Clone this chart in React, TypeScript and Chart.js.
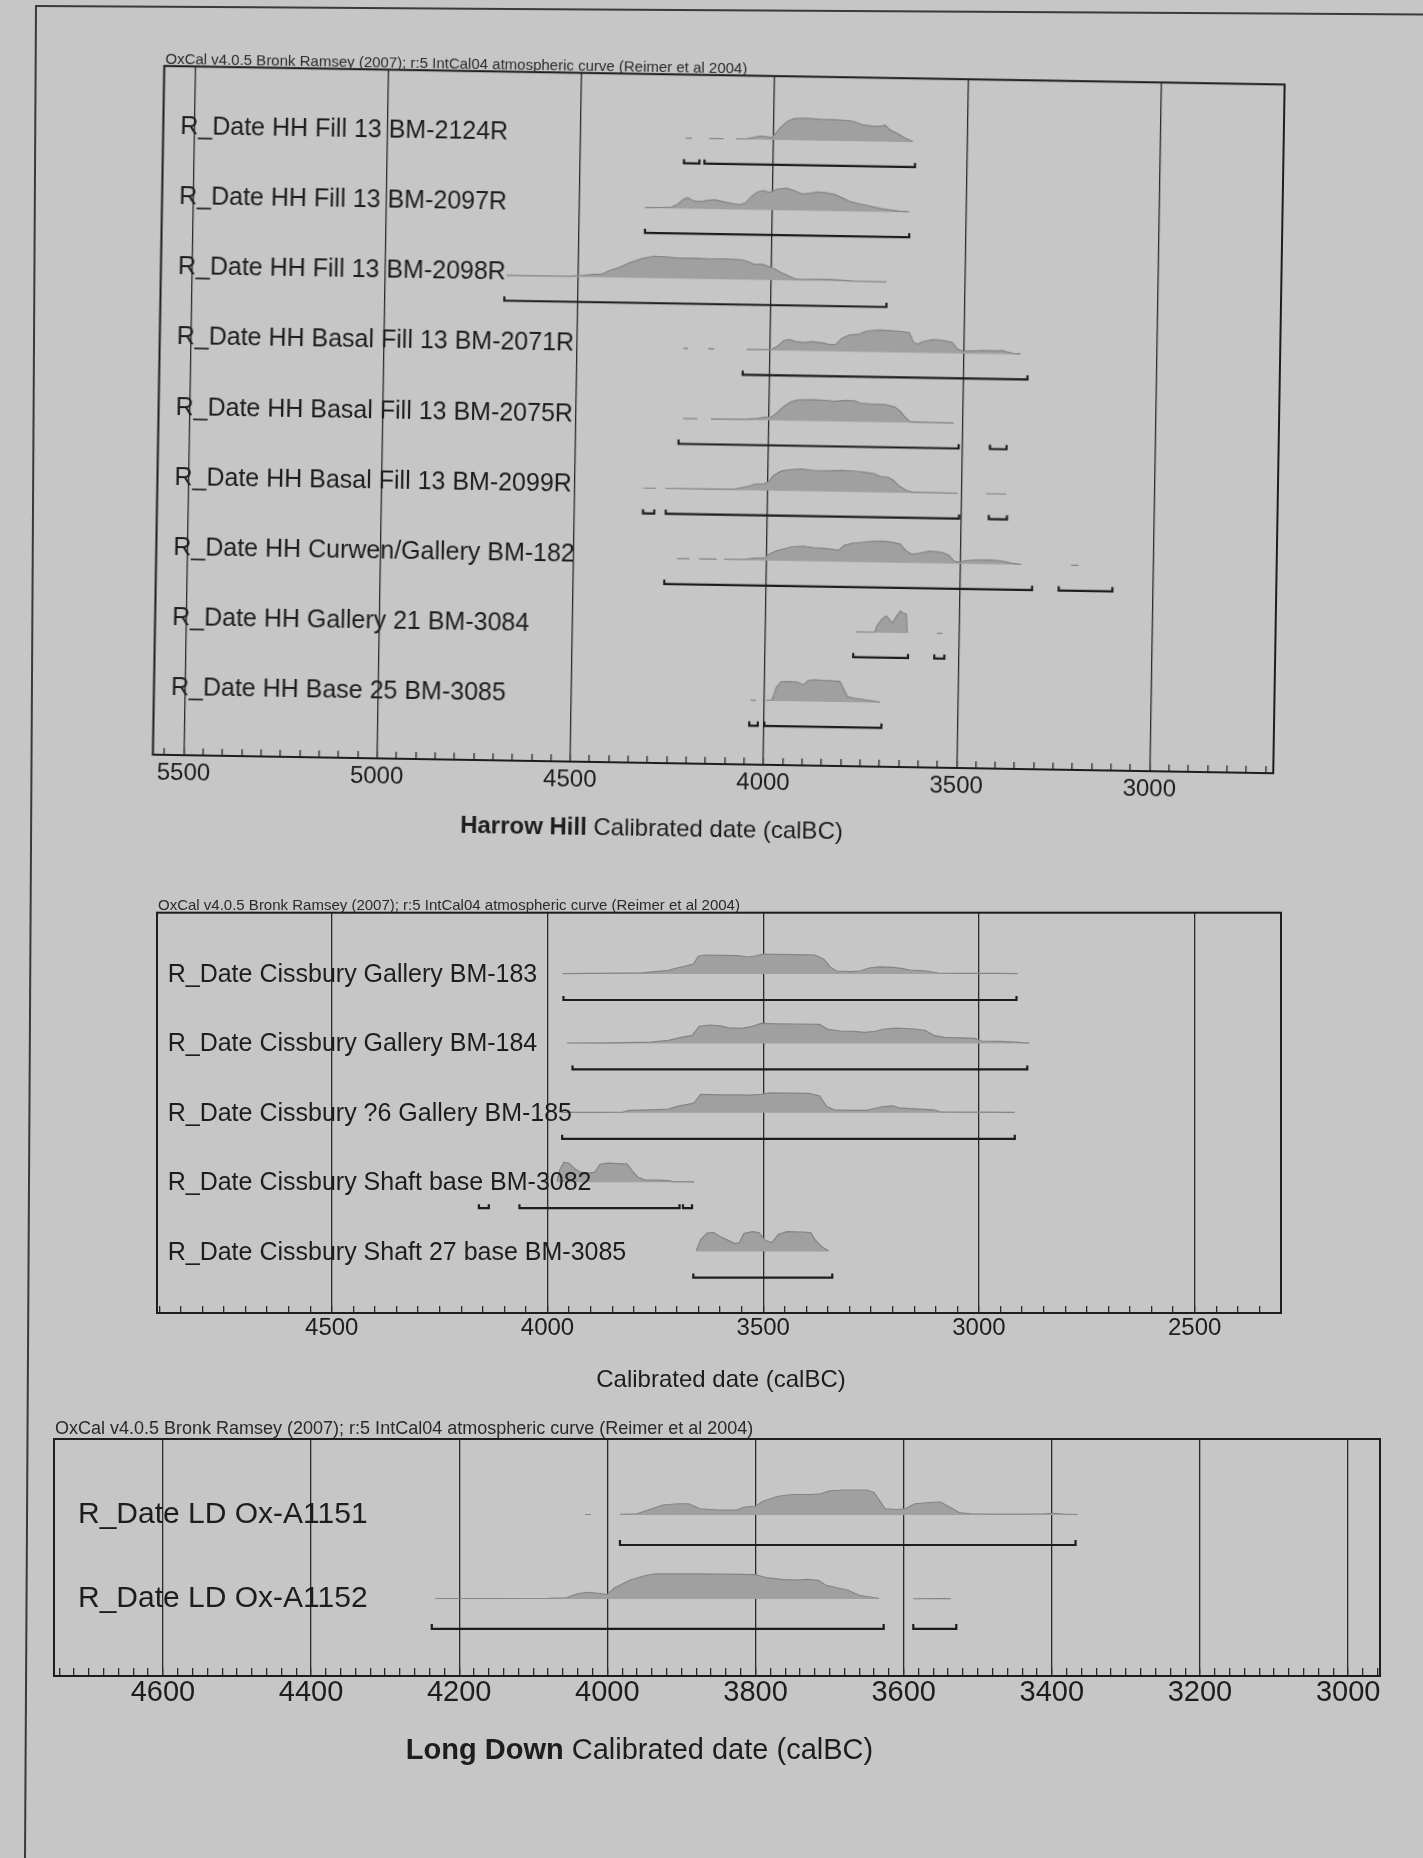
import React, { useEffect, useRef } from 'react';
import { Chart, registerables } from 'chart.js';

Chart.register(...registerables);

type Pt = [number, number | null];
type Rg = [number, number];

// ---------------- shared text ----------------
const HEADER = 'OxCal v4.0.5 Bronk Ramsey (2007); r:5 IntCal04 atmospheric curve (Reimer et al 2004)';
const AXIS_TEXT = 'Calibrated date (calBC)';

// ---------------- Harrow Hill ----------------
const HH_LABELS = [
  'R_Date HH Fill 13 BM-2124R',
  'R_Date HH Fill 13 BM-2097R',
  'R_Date HH Fill 13 BM-2098R',
  'R_Date HH Basal Fill 13 BM-2071R',
  'R_Date HH Basal Fill 13 BM-2075R',
  'R_Date HH Basal Fill 13 BM-2099R',
  'R_Date HH Curwen/Gallery BM-182',
  'R_Date HH Gallery 21 BM-3084',
  'R_Date HH Base 25 BM-3085',
];
const HH_TICKS = [5500, 5000, 4500, 4000, 3500, 3000];

const HH_2124R: Pt[] = [[4228,0.02],[4212,0.02],[4205,null],[4168,0.02],[4130,0.02],[4115,null],[4098,0.02],[4070,0.03],[4050,0.1],[4035,0.17],[4020,0.14],[4005,0.1],[3995,0.3],[3980,0.62],[3965,0.85],[3948,0.98],[3920,1.0],[3880,0.97],[3840,0.96],[3800,0.92],[3785,0.85],[3770,0.74],[3745,0.7],[3725,0.7],[3712,0.75],[3700,0.55],[3680,0.38],[3660,0.18],[3640,0.03]];
const HH_2097R: Pt[] = [[4330,0.02],[4290,0.03],[4262,0.05],[4245,0.2],[4230,0.42],[4220,0.5],[4205,0.35],[4185,0.33],[4165,0.4],[4150,0.42],[4125,0.33],[4100,0.25],[4085,0.22],[4070,0.3],[4055,0.6],[4040,0.8],[4025,0.88],[4010,0.8],[4000,0.85],[3990,0.95],[3965,1.0],[3945,0.9],[3925,0.75],[3905,0.78],[3885,0.85],[3860,0.82],[3840,0.75],[3820,0.6],[3800,0.45],[3780,0.35],[3760,0.3],[3740,0.22],[3720,0.15],[3700,0.1],[3675,0.05],[3647,0.02]];
const HH_2098R: Pt[] = [[4685,0.02],[4520,0.03],[4490,0.07],[4465,0.12],[4440,0.14],[4420,0.3],[4395,0.45],[4365,0.7],[4335,0.88],[4305,1.0],[4275,0.97],[4240,0.93],[4200,0.94],[4160,0.92],[4120,0.93],[4080,0.9],[4060,0.82],[4045,0.7],[4025,0.72],[4005,0.6],[3990,0.5],[3975,0.35],[3955,0.2],[3935,0.06],[3910,0.05],[3885,0.08],[3855,0.08],[3825,0.05],[3790,0.02],[3702,0.01]];
const HH_2071R: Pt[] = [[4225,0.02],[4212,0.02],[4205,null],[4160,0.02],[4145,0.02],[4135,null],[4060,0.02],[4010,0.03],[3995,0.05],[3980,0.2],[3965,0.45],[3950,0.5],[3935,0.42],[3915,0.38],[3890,0.42],[3865,0.38],[3845,0.3],[3830,0.32],[3815,0.6],[3795,0.75],[3770,0.8],[3750,0.95],[3720,1.0],[3690,0.98],[3660,0.95],[3640,0.9],[3630,0.5],[3620,0.38],[3605,0.5],[3580,0.6],[3555,0.58],[3530,0.5],[3515,0.2],[3500,0.1],[3480,0.12],[3450,0.15],[3420,0.14],[3400,0.16],[3385,0.1],[3370,0.04],[3352,0.02]];
const HH_2075R: Pt[] = [[4222,0.02],[4185,0.02],[4178,null],[4150,0.02],[4085,0.03],[4055,0.04],[4030,0.08],[4010,0.15],[3995,0.14],[3983,0.3],[3965,0.6],[3945,0.85],[3925,0.95],[3890,0.97],[3860,0.95],[3830,0.92],[3805,0.96],[3780,0.95],[3765,0.85],[3730,0.82],[3700,0.8],[3675,0.7],[3660,0.5],[3648,0.25],[3635,0.05],[3600,0.03],[3560,0.03],[3522,0.02]];
const HH_2099R: Pt[] = [[4322,0.02],[4290,0.02],[4283,null],[4265,0.02],[4150,0.03],[4085,0.04],[4070,0.1],[4050,0.18],[4035,0.28],[4010,0.3],[3998,0.4],[3985,0.7],[3965,0.9],[3940,0.97],[3915,1.0],[3885,0.95],[3850,0.93],[3810,0.97],[3780,0.95],[3750,0.9],[3725,0.85],[3710,0.72],[3690,0.7],[3675,0.55],[3660,0.3],[3640,0.1],[3625,0.03],[3560,0.03],[3509,0.02],[3500,null],[3435,0.02],[3383,0.02]];
const HH_BM182: Pt[] = [[4232,0.02],[4200,0.03],[4190,null],[4175,0.03],[4130,0.03],[4120,null],[4110,0.03],[4055,0.04],[4035,0.1],[4005,0.12],[3993,0.3],[3975,0.45],[3955,0.55],[3935,0.65],[3905,0.68],[3880,0.62],[3850,0.6],[3825,0.55],[3815,0.52],[3800,0.75],[3780,0.85],[3755,0.9],[3730,0.95],[3700,0.97],[3675,0.93],[3655,0.85],[3640,0.55],[3625,0.4],[3605,0.45],[3580,0.55],[3550,0.52],[3530,0.4],[3515,0.12],[3500,0.08],[3485,0.15],[3460,0.18],[3420,0.2],[3390,0.16],[3370,0.08],[3341,0.02],[3320,null],[3212,0.02],[3193,0.02]];
const HH_BM3084: Pt[] = [[3765,0.02],[3717,0.03],[3712,0.3],[3700,0.6],[3688,0.77],[3680,0.6],[3672,0.45],[3662,0.75],[3652,1.0],[3644,0.9],[3636,0.85],[3633,0.02],[3600,null],[3556,0.02],[3542,0.02]];
const HH_BM3085: Pt[] = [[4036,0.02],[4021,0.02],[4010,null],[3995,0.02],[3980,0.05],[3970,0.6],[3958,0.88],[3940,0.9],[3915,0.88],[3900,0.75],[3888,0.95],[3870,1.0],[3855,0.98],[3835,0.96],[3805,0.94],[3795,0.6],[3785,0.25],[3765,0.18],[3740,0.12],[3720,0.08],[3700,0.02]];
const HH_DISTS = [HH_2124R, HH_2097R, HH_2098R, HH_2071R, HH_2075R, HH_2099R, HH_BM182, HH_BM3084, HH_BM3085];
const HH_RANGES: Rg[][] = [
  [[4231, 4191], [4178, 3633]],
  [[4329, 3645]],
  [[4690, 3701]],
  [[4070, 3333]],
  [[4233, 3508], [3427, 3384]],
  [[4322, 4293], [4263, 3504], [3427, 3380]],
  [[4264, 3312], [3243, 3104]],
  [[3772, 3630], [3562, 3536]],
  [[4038, 4016], [3999, 3696]],
];

// ---------------- Cissbury ----------------
const CB_LABELS = [
  'R_Date Cissbury Gallery BM-183',
  'R_Date Cissbury Gallery BM-184',
  'R_Date Cissbury ?6 Gallery BM-185',
  'R_Date Cissbury Shaft base BM-3082',
  'R_Date Cissbury Shaft 27 base BM-3085',
];
const CB_TICKS = [4500, 4000, 3500, 3000, 2500];
const CB_BM183: Pt[] = [[3965,0.02],[3900,0.03],[3830,0.04],[3780,0.06],[3750,0.12],[3720,0.18],[3700,0.3],[3680,0.4],[3662,0.5],[3650,0.9],[3635,0.95],[3600,0.93],[3560,0.92],[3535,0.85],[3520,0.9],[3500,1.0],[3470,0.98],[3420,0.97],[3380,0.95],[3360,0.75],[3345,0.35],[3330,0.15],[3300,0.12],[3275,0.15],[3255,0.3],[3230,0.36],[3200,0.33],[3180,0.28],[3160,0.2],[3120,0.15],[3095,0.05],[3050,0.03],[2950,0.03],[2910,0.02]];
const CB_BM184: Pt[] = [[3955,0.02],[3850,0.03],[3760,0.06],[3720,0.15],[3690,0.3],[3665,0.4],[3648,0.85],[3625,0.92],[3600,0.88],[3580,0.78],[3550,0.75],[3525,0.85],[3505,1.0],[3470,0.98],[3420,0.97],[3370,0.95],[3350,0.7],[3320,0.62],[3290,0.6],[3265,0.55],[3240,0.6],[3220,0.72],[3190,0.76],[3150,0.72],[3125,0.65],[3105,0.4],[3080,0.3],[3040,0.28],[3010,0.25],[2995,0.12],[2950,0.1],[2915,0.06],[2883,0.02]];
const CB_BM185: Pt[] = [[3966,0.02],[3880,0.02],[3825,0.03],[3810,0.12],[3760,0.15],[3720,0.18],[3700,0.32],[3675,0.42],[3660,0.5],[3645,0.92],[3600,0.9],[3560,0.9],[3530,0.88],[3505,0.92],[3485,1.0],[3440,0.98],[3395,0.97],[3370,0.85],[3352,0.3],[3335,0.15],[3300,0.12],[3260,0.12],[3225,0.3],[3200,0.35],[3185,0.25],[3150,0.2],[3105,0.15],[3090,0.05],[3000,0.03],[2917,0.02]];
const CB_BM3082: Pt[] = [[3978,0.05],[3972,0.6],[3962,1.0],[3950,0.95],[3938,0.7],[3925,0.5],[3905,0.45],[3890,0.5],[3878,0.9],[3860,0.95],[3835,0.93],[3815,0.9],[3805,0.6],[3790,0.25],[3775,0.12],[3745,0.1],[3720,0.08],[3710,0.03],[3660,0.02]];
const CB_BM3085: Pt[] = [[3655,0.05],[3645,0.6],[3630,0.92],[3615,0.95],[3600,0.75],[3585,0.6],[3565,0.4],[3555,0.45],[3545,0.9],[3525,1.0],[3510,0.95],[3495,0.55],[3480,0.45],[3465,0.85],[3445,1.0],[3410,0.98],[3390,0.95],[3380,0.6],[3365,0.25],[3348,0.03]];
const CB_DISTS = [CB_BM183, CB_BM184, CB_BM185, CB_BM3082, CB_BM3085];
const CB_RANGES: Rg[][] = [
  [[3963, 2913]],
  [[3942, 2888]],
  [[3966, 2917]],
  [[4159, 4136], [4065, 3694], [3686, 3665]],
  [[3662, 3340]],
];

// ---------------- Long Down ----------------
const LD_LABELS = ['R_Date LD Ox-A1151', 'R_Date LD Ox-A1152'];
const LD_TICKS = [4600, 4400, 4200, 4000, 3800, 3600, 3400, 3200, 3000];
const LD_A1151: Pt[] = [[4030,0.02],[4022,0.02],[4010,null],[3983,0.03],[3960,0.05],[3945,0.2],[3925,0.4],[3905,0.45],[3890,0.45],[3875,0.25],[3850,0.2],[3825,0.2],[3815,0.32],[3800,0.35],[3790,0.55],[3770,0.75],[3750,0.82],[3725,0.82],[3712,0.85],[3700,0.97],[3680,1.0],[3650,1.0],[3640,0.9],[3625,0.25],[3610,0.22],[3598,0.25],[3585,0.45],[3565,0.5],[3550,0.52],[3540,0.35],[3525,0.1],[3510,0.05],[3480,0.04],[3440,0.04],[3410,0.05],[3398,0.07],[3385,0.04],[3365,0.02]];
const LD_A1152: Pt[] = [[4232,0.02],[4150,0.02],[4080,0.03],[4055,0.05],[4040,0.22],[4025,0.27],[4010,0.22],[4000,0.18],[3990,0.45],[3970,0.75],[3950,0.93],[3935,1.0],[3880,1.0],[3840,0.99],[3800,0.97],[3785,0.85],[3765,0.78],[3745,0.75],[3730,0.78],[3715,0.75],[3705,0.55],[3690,0.45],[3675,0.35],[3660,0.15],[3645,0.08],[3633,0.02],[3620,null],[3587,0.01],[3545,0.02],[3536,0.01]];
const LD_DISTS = [LD_A1151, LD_A1152];
const LD_RANGES: Rg[][] = [
  [[3983, 3368]],
  [[4237, 3627], [3587, 3529]],
];

// ---------------- layout (positions / styles only) ----------------
const FONT = '"Liberation Sans", Arial, Helvetica, sans-serif';
const INK = '#1d1d1d';

type Panel = {
  id: string; labels: string[]; dists: Pt[][]; ranges: Rg[][]; major: number[];
  minor: number; xMin: number; xMax: number; yMin: number; yMax: number;
  peak: number; bracket: number; tick: number;
  left: number; top: number; w: number; h: number; pad: { left: number; top: number; right: number; bottom: number };
  rot: number; ox: number; oy: number;
  tickFont: number; tickPad: number; tickLen: number;
  headerSize: number; headerGap: number; labelSize: number; labelX: number; labelDy: number;
  titleBold: string; titleSize: number; titleCx: number; titleDy: number;
};

const PANELS: Panel[] = [
  {
    id: 'hh', labels: HH_LABELS, dists: HH_DISTS, ranges: HH_RANGES, major: HH_TICKS,
    minor: 50, xMin: 2680, xMax: 5580, yMin: -0.9096, yMax: 8.911,
    peak: 0.314, bracket: 0.356, tick: 0.06,
    left: 60, top: 10, w: 1300, h: 870, pad: { left: 98.5, top: 65.2, right: 81, bottom: 66 },
    rot: 0.95, ox: 658.75, oy: 409.6,
    tickFont: 24, tickPad: 11, tickLen: 7,
    headerSize: 15, headerGap: 2, labelSize: 25, labelX: 17, labelDy: 4,
    titleBold: 'Harrow Hill ', titleSize: 24, titleCx: 499.8, titleDy: 66,
  },
  {
    id: 'cb', labels: CB_LABELS, dists: CB_DISTS, ranges: CB_RANGES, major: CB_TICKS,
    minor: 50, xMin: 2300, xMax: 4905, yMin: -0.883, yMax: 4.885,
    peak: 0.288, bracket: 0.375, tick: 0.058,
    left: 60, top: 880, w: 1300, h: 530, pad: { left: 97, top: 32.7, right: 79, bottom: 47 },
    rot: 0, ox: 0, oy: 0,
    tickFont: 24, tickPad: 8, tickLen: 7,
    headerSize: 15, headerGap: 3, labelSize: 25, labelX: 10.7, labelDy: 8,
    titleBold: '', titleSize: 24, titleCx: 564, titleDy: 67,
  },
  {
    id: 'ld', labels: LD_LABELS, dists: LD_DISTS, ranges: LD_RANGES, major: LD_TICKS,
    minor: 20, xMin: 2957, xMax: 4747, yMin: -0.905, yMax: 1.917,
    peak: 0.298, bracket: 0.357, tick: 0.06,
    left: 0, top: 1400, w: 1420, h: 440, pad: { left: 54, top: 39, right: 40, bottom: 114 },
    rot: 0, ox: 0, oy: 0,
    tickFont: 29, tickPad: 8, tickLen: 8,
    headerSize: 18, headerGap: 5, labelSize: 30, labelX: 24, labelDy: 8,
    titleBold: 'Long Down ', titleSize: 29, titleCx: 585.5, titleDy: 75,
  },
];

function isMajor(p: Panel, v: number) {
  return p.major.some((m) => Math.abs(m - v) < 1e-6);
}

function textPlugin(p: Panel) {
  return {
    id: 'oxtext_' + p.id,
    afterDraw(chart: any) {
      const { ctx, chartArea: a } = chart;
      const y = chart.scales.y;
      ctx.save();
      ctx.strokeStyle = INK;
      ctx.lineWidth = 2;
      ctx.strokeRect(a.left, a.top, a.right - a.left, a.bottom - a.top);
      ctx.fillStyle = '#2a2a2a';
      ctx.textAlign = 'left';
      ctx.textBaseline = 'alphabetic';
      ctx.font = `${p.headerSize}px ${FONT}`;
      ctx.fillText(HEADER, a.left + 1, a.top - p.headerGap);
      ctx.fillStyle = INK;
      ctx.font = `${p.labelSize}px ${FONT}`;
      p.labels.forEach((lab, i) => {
        ctx.fillText(lab, a.left + p.labelX, y.getPixelForValue(i) + p.labelDy);
      });
      ctx.textBaseline = 'middle';
      ctx.font = `bold ${p.titleSize}px ${FONT}`;
      const wb = p.titleBold ? ctx.measureText(p.titleBold).width : 0;
      ctx.font = `${p.titleSize}px ${FONT}`;
      const wr = ctx.measureText(AXIS_TEXT).width;
      const x0 = a.left + p.titleCx - (wb + wr) / 2;
      const ty = a.bottom + p.titleDy;
      if (p.titleBold) {
        ctx.font = `bold ${p.titleSize}px ${FONT}`;
        ctx.fillText(p.titleBold, x0, ty);
      }
      ctx.font = `${p.titleSize}px ${FONT}`;
      ctx.fillText(AXIS_TEXT, x0 + wb, ty);
      ctx.restore();
    },
  };
}

function buildConfig(p: Panel): any {
  const datasets: any[] = [];
  p.dists.forEach((dist, i) => {
    datasets.push({
      type: 'line',
      data: dist.map(([x, v]) => ({ x, y: v === null ? null : i - v * p.peak })),
      borderColor: '#858585',
      borderWidth: 1.2,
      backgroundColor: '#a0a0a0',
      fill: { value: i },
      pointRadius: 0,
      tension: 0,
      spanGaps: false,
    });
  });
  p.ranges.forEach((rs, i) => {
    const yb = i + p.bracket;
    const yt = yb - p.tick;
    const pts: any[] = [];
    rs.forEach(([a, b], k) => {
      if (k > 0) pts.push({ x: a, y: null });
      pts.push({ x: a, y: yt }, { x: a, y: yb }, { x: b, y: yb }, { x: b, y: yt });
    });
    datasets.push({
      type: 'line',
      data: pts,
      borderColor: INK,
      borderWidth: 2.2,
      pointRadius: 0,
      fill: false,
      tension: 0,
      spanGaps: false,
    });
  });
  return {
    type: 'line',
    data: { datasets },
    options: {
      animation: false,
      responsive: false,
      maintainAspectRatio: false,
      devicePixelRatio: 1,
      events: [],
      layout: { padding: p.pad },
      plugins: { legend: { display: false }, tooltip: { enabled: false }, title: { display: false } },
      scales: {
        x: {
          type: 'linear',
          reverse: true,
          min: p.xMin,
          max: p.xMax,
          afterBuildTicks: (s: any) => {
            const out: { value: number }[] = [];
            for (let v = Math.ceil(p.xMin / p.minor) * p.minor; v <= p.xMax; v += p.minor) out.push({ value: v });
            s.ticks = out;
          },
          afterFit: (s: any) => {
            s.height = 50;
            s.paddingLeft = 0;
            s.paddingRight = 0;
          },
          ticks: {
            stepSize: p.minor,
            autoSkip: false,
            maxRotation: 0,
            minRotation: 0,
            padding: p.tickPad,
            color: INK,
            font: { family: FONT, size: p.tickFont },
            callback: (v: number) => (isMajor(p, v) ? String(v) : ''),
          },
          grid: {
            color: (c: any) => (c.tick && isMajor(p, c.tick.value) ? '#2b2b2b' : 'rgba(0,0,0,0)'),
            lineWidth: 1.3,
            tickColor: '#2b2b2b',
            tickWidth: 1.3,
            tickLength: -p.tickLen,
            drawTicks: true,
            drawOnChartArea: true,
          },
          border: { display: true, color: INK, width: 2 },
        },
        y: { type: 'linear', display: false, reverse: true, min: p.yMin, max: p.yMax },
      },
    },
    plugins: [textPlugin(p)],
  };
}

function OxPanel({ p }: { p: Panel }) {
  const ref = useRef<HTMLCanvasElement | null>(null);
  useEffect(() => {
    if (!ref.current) return;
    const chart = new Chart(ref.current, buildConfig(p));
    return () => chart.destroy();
  }, [p]);
  return (
    <canvas
      ref={ref}
      width={p.w}
      height={p.h}
      style={{
        position: 'absolute',
        left: p.left,
        top: p.top,
        width: p.w,
        height: p.h,
        transform: p.rot ? `rotate(${p.rot}deg)` : undefined,
        transformOrigin: `${p.ox}px ${p.oy}px`,
      }}
    />
  );
}

export default function App() {
  return (
    <div
      style={{
        position: 'absolute',
        left: 0,
        top: 0,
        width: 1423,
        height: 1858,
        background: '#c6c6c6',
        overflow: 'hidden',
        fontFamily: FONT,
      }}
    >
      <div style={{ position: 'absolute', left: 35, top: 5, width: 1400, height: 2, background: '#3a3a3a', transform: 'rotate(0.35deg)', transformOrigin: '0 0' }} />
      <div style={{ position: 'absolute', left: 35, top: 5, width: 2, height: 1870, background: '#3a3a3a', transform: 'rotate(0.34deg)', transformOrigin: '0 0' }} />
      {PANELS.map((p) => (
        <OxPanel key={p.id} p={p} />
      ))}
    </div>
  );
}
